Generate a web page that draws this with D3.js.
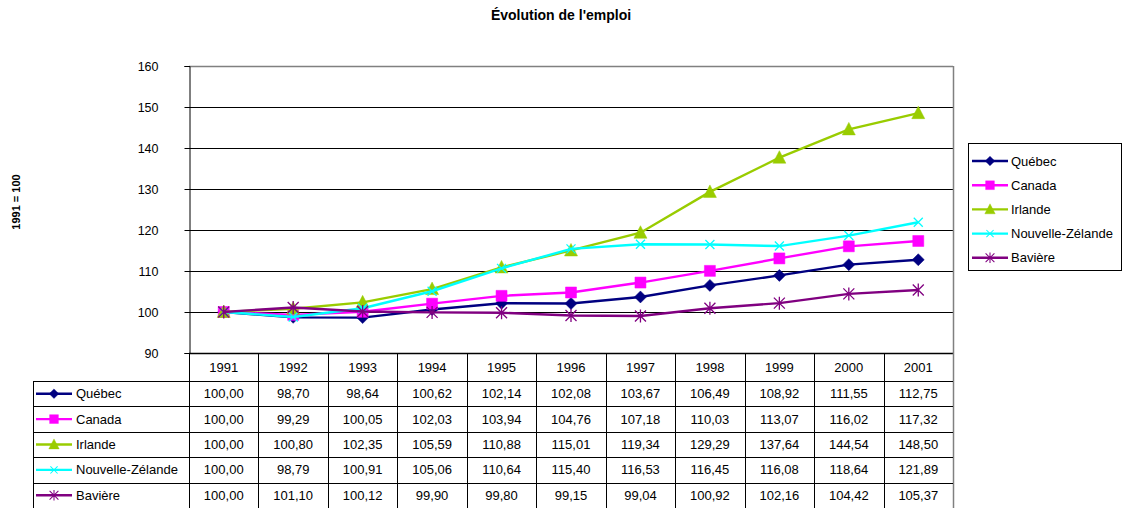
<!DOCTYPE html>
<html><head><meta charset="utf-8">
<script src="https://cdn.jsdelivr.net/npm/d3@7"></script>
<style>
body{margin:0;background:#fff;}
svg text{font-family:"Liberation Sans",Arial,sans-serif;}
</style></head>
<body><svg id="c" width="1124" height="508"></svg>
<script>
const years = ["1991","1992","1993","1994","1995","1996","1997","1998","1999","2000","2001"];
const seriesNames = ["Québec","Canada","Irlande","Nouvelle-Zélande","Bavière"];
const quebec = [100.00,98.70,98.64,100.62,102.14,102.08,103.67,106.49,108.92,111.55,112.75];
const canada = [100.00,99.29,100.05,102.03,103.94,104.76,107.18,110.03,113.07,116.02,117.32];
const irlande = [100.00,100.80,102.35,105.59,110.88,115.01,119.34,129.29,137.64,144.54,148.50];
const nouvelleZelande = [100.00,98.79,100.91,105.06,110.64,115.40,116.53,116.45,116.08,118.64,121.89];
const baviere = [100.00,101.10,100.12,99.90,99.80,99.15,99.04,100.92,102.16,104.42,105.37];
const yTicks = [90,100,110,120,130,140,150,160];
const colors = ["#000080","#ff00ff","#99cc00","#00ffff","#800080"];
const markers = ["diamond","square","triangle","x","star"];
const title = "Évolution de l'emploi";
const yLabel = "1991 = 100";

const data = [quebec,canada,irlande,nouvelleZelande,baviere];
const svg = d3.select("#c");
const L=189,R=953,T=66,B=353;
const FS=13;
const x = d3.scaleBand().domain(years).range([L,R]);
const y = d3.scaleLinear().domain([90,160]).range([B,T]);

svg.append("text").attr("x",561).attr("y",20).attr("text-anchor","middle")
  .attr("font-size",14).attr("font-weight","bold").text(title);
svg.append("text").attr("transform","translate(20,202) rotate(-90)")
  .attr("text-anchor","middle").attr("font-size",11).attr("font-weight","bold").text(yLabel);

// gridlines
svg.append("g").selectAll("line").data(yTicks.filter(d=>d>90&&d<160)).join("line")
  .attr("x1",L).attr("x2",R).attr("y1",d=>Math.round(y(d))+0.5).attr("y2",d=>Math.round(y(d))+0.5)
  .attr("stroke","#000").attr("stroke-width",1);
svg.append("line").attr("x1",L).attr("x2",R).attr("y1",T+0.5).attr("y2",T+0.5).attr("stroke","#808080").attr("stroke-width",1.5);
svg.append("line").attr("x1",R+0.5).attr("x2",R+0.5).attr("y1",T).attr("y2",B).attr("stroke","#808080").attr("stroke-width",1.5);

// y axis
const yAxis = d3.axisLeft(y).tickValues(yTicks).tickSize(5).tickPadding(26).tickFormat(d3.format("d"));
const ga = svg.append("g").attr("transform","translate("+(L+0.5)+",0)").call(yAxis);
ga.select(".domain").attr("stroke","#000");
ga.selectAll("text").attr("font-size",12.5).attr("fill","#000").attr("font-family","Liberation Sans, Arial, sans-serif");

function markerPath(type){
  if(type==="diamond") return "M0,-6L6,0L0,6L-6,0Z";
  if(type==="square") return "M-5.5,-5.5H5.5V5.5H-5.5Z";
  if(type==="triangle") return "M0,-7L6.5,5.5H-6.5Z";
  if(type==="x") return "M-4.5,-4.5L4.5,4.5M-4.5,4.5L4.5,-4.5";
  return "M-5.5,-5.5L5.5,5.5M-5.5,5.5L5.5,-5.5M0,-6.5V6.5";
}
function drawMarker(g,type,color){
  const p = g.append("path").attr("d",markerPath(type));
  if(type==="x"||type==="star") p.attr("fill","none").attr("stroke",color).attr("stroke-width",1.3);
  else p.attr("fill",color).attr("stroke",color).attr("stroke-width",0.5);
}
const line = d3.line().x((d,i)=>x(years[i])+x.bandwidth()/2).y(d=>y(d));
data.forEach((s,k)=>{
  const g = svg.append("g");
  g.append("path").datum(s).attr("d",line).attr("fill","none").attr("stroke",colors[k]).attr("stroke-width",2.4);
  s.forEach((v,i)=>{
    const mg = g.append("g").attr("transform","translate("+(x(years[i])+x.bandwidth()/2)+","+y(v)+")");
    drawMarker(mg,markers[k],colors[k]);
  });
});

svg.append("line").attr("x1",L).attr("x2",R).attr("y1",B+0.5).attr("y2",B+0.5).attr("stroke","#000").attr("stroke-width",1.5);

// data table
const headH=28, rowH=25.4, tL=33;
const tb = B, rowTop = B+headH;
const tg = svg.append("g");
years.forEach((yr,i)=>{
  tg.append("line").attr("x1",Math.round(x(yr))+0.5).attr("x2",Math.round(x(yr))+0.5).attr("y1",tb).attr("y2",rowTop+rowH*5).attr("stroke","#000");
  tg.append("text").attr("x",x(yr)+x.bandwidth()/2).attr("y",tb+18.5).attr("text-anchor","middle").attr("font-size",FS).text(yr);
});
tg.append("line").attr("x1",R+0.5).attr("x2",R+0.5).attr("y1",tb).attr("y2",rowTop+rowH*5).attr("stroke","#808080").attr("stroke-width",1.5);
tg.append("line").attr("x1",tL+0.5).attr("x2",tL+0.5).attr("y1",rowTop).attr("y2",rowTop+rowH*5).attr("stroke","#000");
for(let r=0;r<=5;r++){
  const yy=Math.round(rowTop+r*rowH)+0.5;
  tg.append("line").attr("x1",tL).attr("x2",R).attr("y1",yy).attr("y2",yy).attr("stroke","#000");
}
const fmt = v=>v.toFixed(2).replace(".",",");
data.forEach((s,k)=>{
  const cy = rowTop+k*rowH+rowH/2;
  tg.append("line").attr("x1",36).attr("x2",72).attr("y1",cy).attr("y2",cy).attr("stroke",colors[k]).attr("stroke-width",2.4);
  drawMarker(tg.append("g").attr("transform","translate(54,"+cy+") scale(0.8)"),markers[k],colors[k]);
  tg.append("text").attr("x",76).attr("y",cy+4.5).attr("font-size",FS).text(seriesNames[k]);
  s.forEach((v,i)=>{
    tg.append("text").attr("x",x(years[i])+x.bandwidth()/2).attr("y",cy+4.5).attr("text-anchor","middle").attr("font-size",FS).text(fmt(v));
  });
});

// legend
const lg = svg.append("g");
lg.append("rect").attr("x",968.5).attr("y",143.5).attr("width",153).attr("height",127).attr("fill","#fff").attr("stroke","#000");
seriesNames.forEach((n,k)=>{
  const cy = 161+k*24.2;
  lg.append("line").attr("x1",972).attr("x2",1008).attr("y1",cy).attr("y2",cy).attr("stroke",colors[k]).attr("stroke-width",2.4);
  drawMarker(lg.append("g").attr("transform","translate(990,"+cy+") scale(0.8)"),markers[k],colors[k]);
  lg.append("text").attr("x",1011).attr("y",cy+4.5).attr("font-size",FS).text(n);
});
</script></body></html>
